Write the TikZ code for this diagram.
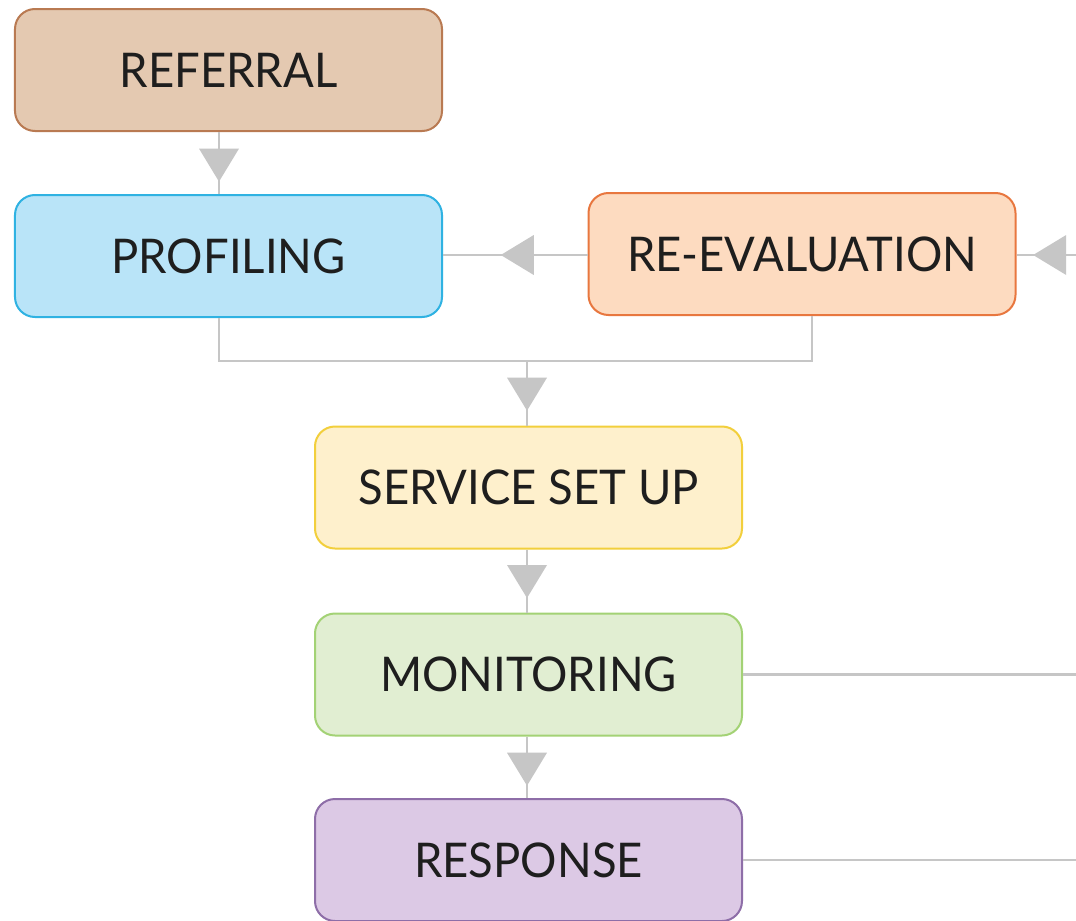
\documentclass[tikz,border=0pt]{standalone}
\usepackage{fontspec}
\setmainfont{Lato}[FakeStretch=0.95]
\usetikzlibrary{arrows.meta,decorations.markings}
\definecolor{conn}{HTML}{C6C6C6}
\definecolor{txt}{HTML}{1E1E1E}
\definecolor{refF}{HTML}{E4C9B1}\definecolor{refD}{HTML}{B97A52}
\definecolor{proF}{HTML}{B9E4F8}\definecolor{proD}{HTML}{2FB2E2}
\definecolor{reeF}{HTML}{FDDBC0}\definecolor{reeD}{HTML}{E8773F}
\definecolor{serF}{HTML}{FEF0CC}\definecolor{serD}{HTML}{F2CF3C}
\definecolor{monF}{HTML}{E1EED2}\definecolor{monD}{HTML}{A3D275}
\definecolor{resF}{HTML}{DCC9E5}\definecolor{resD}{HTML}{8E6EA8}
\tikzset{
  box/.style={rectangle, rounded corners=20bp, line width=2bp,
    minimum width=427bp, minimum height=122bp, inner sep=0pt,
    text=txt, font=\fontsize{48}{48}\selectfont},
  conline/.style={draw=conn, line width=2.2bp},
  tipat/.style={postaction={decorate}, decoration={markings,
    mark=at position #1 with {\arrow{Triangle[width=40bp,length=33bp,fill=conn,line width=0pt]}}}}
}
\begin{document}
\begin{tikzpicture}[x=1bp,y=-1bp]
\useasboundingbox (0,0) rectangle (1076,921);
\fill[white] (0,0) rectangle (1076,921);
\node[box, fill=refF, draw=refD] (ref) at (228.5,70) {REFERRAL};
\node[box, fill=proF, draw=proD] (pro) at (228.5,256) {PROFILING};
\node[box, fill=reeF, draw=reeD] (ree) at (802,254) {RE-EVALUATION};
\node[box, fill=serF, draw=serD] (ser) at (528.5,487.5) {SERVICE SET UP};
\node[box, fill=monF, draw=monD] (mon) at (528.5,674.5) {MONITORING};
\node[box, fill=resF, draw=resD] (res) at (528.5,860) {RESPONSE};
\coordinate (inR) at (1076,255);
\coordinate (outM) at (1076,674.5);
\coordinate (outR) at (1076,860);
\coordinate (join) at (527,361);
% connectors
\path[conline, tipat=0.8] ([xshift=-9.5bp]ref.south) -- ([xshift=-9.5bp]pro.north);
\path[conline, tipat=0.6] (ree.west |- inR) -- (pro.east |- inR);
\path[conline, tipat=0.72] (inR) -- (ree.east |- inR);
\path[conline] ([xshift=-9.5bp]pro.south) |- (join) -| ([xshift=10bp]ree.south);
\path[conline, tipat=0.77] (join) -- (ser.north -| join);
\path[conline, tipat=0.77] ([xshift=-1.5bp]ser.south) -- ([xshift=-1.5bp]mon.north);
\path[conline, tipat=0.8] ([xshift=-1.5bp]mon.south) -- ([xshift=-1.5bp]res.north);
\path[conline] (mon.east) -- (outM);
\path[conline] (res.east) -- (outR);
\end{tikzpicture}
\end{document}
